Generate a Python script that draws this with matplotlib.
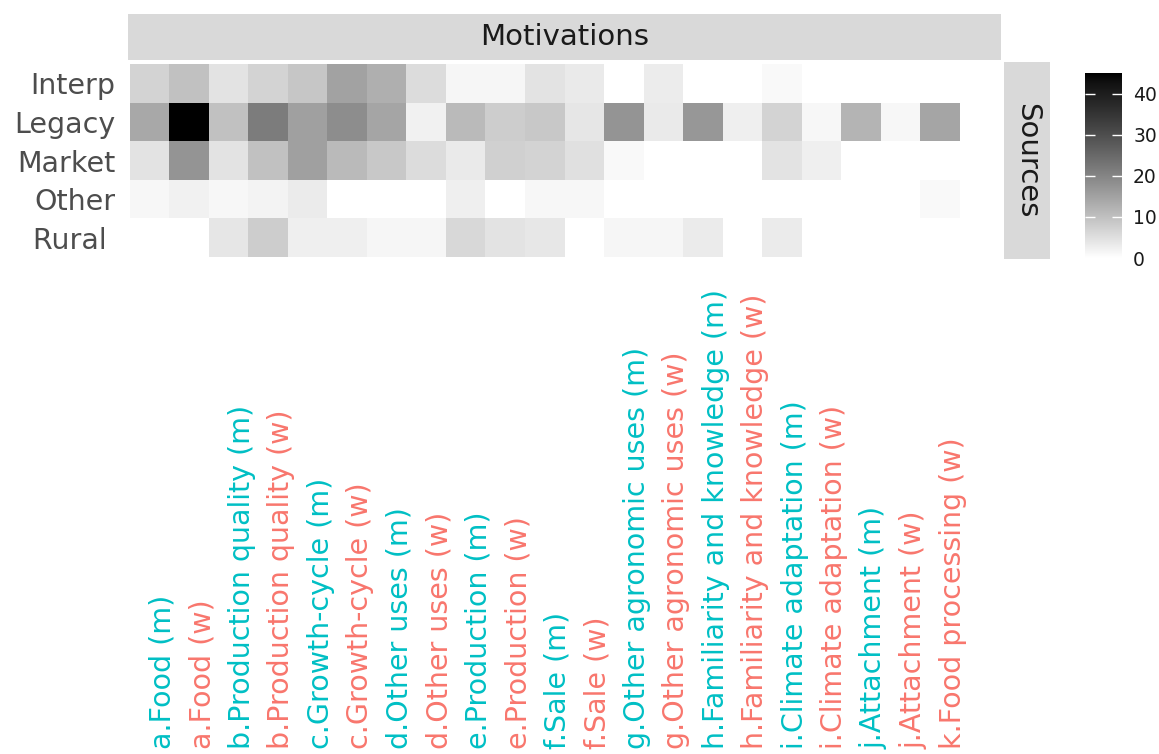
import numpy as np
import matplotlib
matplotlib.use("Agg")
import matplotlib.pyplot as plt
from matplotlib.colors import ListedColormap
from matplotlib.transforms import ScaledTranslation, blended_transform_factory

# motivation categories (x) and source types (y)
motivations = [
    "a.Food (m)", "a.Food (w)",
    "b.Production quality (m)", "b.Production quality (w)",
    "c.Growth-cycle (m)", "c.Growth-cycle (w)",
    "d.Other uses (m)", "d.Other uses (w)",
    "e.Production (m)", "e.Production (w)",
    "f.Sale (m)", "f.Sale (w)",
    "g.Other agronomic uses (m)", "g.Other agronomic uses (w)",
    "h.Familiarity and knowledge (m)", "h.Familiarity and knowledge (w)",
    "i.Climate adaptation (m)", "i.Climate adaptation (w)",
    "j.Attachment (m)", "j.Attachment (w)",
    "k.Food processing (w)",
]
sources = ["Interp", "Legacy", "Market", "Other", "Rural "]

nan = np.nan
interp = [7, 10, 4.5, 7, 9, 15, 13, 5.5, 1.5, 1.5, 4.5, 3.5, nan, 3, nan, nan, 1, nan, nan, nan, nan]
legacy = [14, 45, 10, 21.5, 15.3, 18.5, 14.5, 2.2, 11, 8, 8.7, 4, 17.5, 3.5, 17, 2.6, 7, 1.3, 12, 1.3, 14.5]
market = [4.5, 17.5, 4.5, 10, 15.3, 11, 8.7, 5.5, 3.5, 7.5, 7, 5, 1, nan, nan, nan, 4.5, 2.6, nan, nan, nan]
other = [1.3, 2.2, 1.3, 2, 3.3, nan, nan, nan, 2.5, nan, 1.3, 1.3, nan, nan, nan, nan, nan, nan, nan, nan, 1]
rural = [nan, nan, 4, 8, 2.6, 2.6, 1.5, 1.5, 6.3, 4.5, 3.8, nan, 1.5, 1.5, 3.3, nan, 3.3, nan, nan, nan, nan]

legend_ticks = [0, 10, 20, 30, 40]
vmax = 45

label_colors = ["#00BFC4" if m.endswith("(m)") else "#F8766D" for m in motivations]

counts = np.ma.masked_invalid(np.array([interp, legacy, market, other, rural]))


def lab_gray_cmap(n=256):
    # white -> black, linear in CIE L* like ggplot's scale_fill_gradient
    L = np.linspace(100, 0, n)
    Y = np.where(L > 8, ((L + 16) / 116) ** 3, L / 903.3)
    g = np.where(Y <= 0.0031308, 12.92 * Y, 1.055 * Y ** (1 / 2.4) - 0.055)
    return ListedColormap(np.stack([g, g, g], axis=1))


cmap = lab_gray_cmap()
W, H = 1159, 754
fig = plt.figure(figsize=(W / 100, H / 100), dpi=100)


def px_axes(x0, y0, x1, y1):
    return fig.add_axes([x0 / W, 1 - y1 / H, (x1 - x0) / W, (y1 - y0) / H])


ax = px_axes(128, 62, 1001, 259)
ax.pcolormesh(np.arange(len(motivations) + 1) - 0.5,
              np.arange(len(sources) + 1) - 0.5,
              counts, cmap=cmap, vmin=0, vmax=vmax)
# ggplot leaves one spare slot on the right of the panel
ax.set_xlim(-0.55, len(motivations) + 0.55)
ax.set_ylim(len(sources) - 0.45, -0.55)
for s in ax.spines.values():
    s.set_visible(False)

ax.set_yticks(range(len(sources)))
ax.set_yticklabels(sources, fontsize=20.5, color="#4D4D4D")
ax.tick_params(axis="y", length=0, pad=9)
ax.set_xticks([])

# rotated x labels, bottom aligned near the figure edge
trans = blended_transform_factory(ax.transData, fig.transFigure)
shift = ScaledTranslation(13 / 100, 0, fig.dpi_scale_trans)
for i, (lab, col) in enumerate(zip(motivations, label_colors)):
    ax.text(i, 5 / H, lab, transform=trans + shift, rotation=90,
            ha="center", va="bottom", fontsize=20.5, color=col)

# facet strips
top = px_axes(128, 14, 1001, 60)
side = px_axes(1004, 62, 1050, 259)
for st in (top, side):
    st.set_facecolor("#D9D9D9")
    st.set_xticks([])
    st.set_yticks([])
    for s in st.spines.values():
        s.set_visible(False)
top.text(0.5, 0.5, "Motivations", ha="center", va="center",
         fontsize=21, color="#1A1A1A", transform=top.transAxes)
side.text(0.5, 0.5, "Sources", ha="center", va="center", rotation=-90,
          fontsize=21, color="#1A1A1A", transform=side.transAxes)

# colour bar drawn as a gradient strip
cax = px_axes(1085, 73, 1122, 258)
grad = np.linspace(0, vmax, 256).reshape(-1, 1)
cax.imshow(grad, cmap=cmap, vmin=0, vmax=vmax, origin="lower",
           extent=[0, 1, 0, vmax], aspect="auto")
cax.set_xlim(0, 1)
cax.set_ylim(0, vmax)
cax.set_xticks([])
cax.yaxis.tick_right()
cax.set_yticks(legend_ticks)
for s in cax.spines.values():
    s.set_visible(False)
cax.tick_params(axis="y", direction="in", color="white", length=7, width=1,
                left=True, right=True, labelsize=13.5, pad=8, labelcolor="#1A1A1A")

fig.savefig("out.png", dpi=100)
